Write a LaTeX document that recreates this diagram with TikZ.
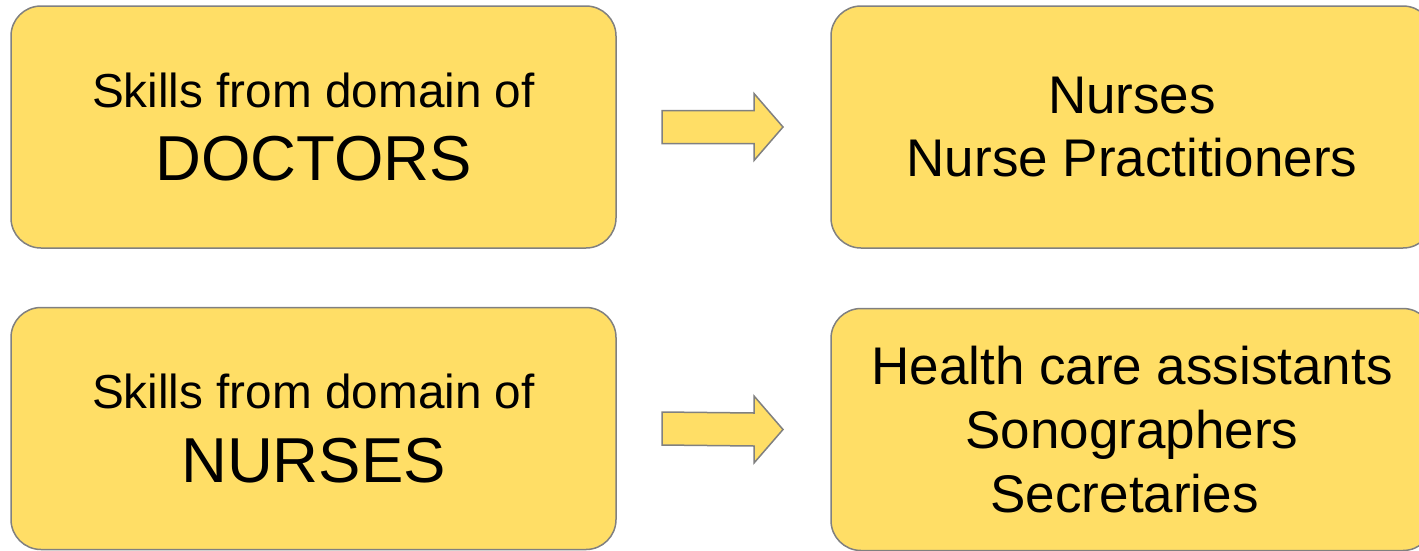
\documentclass[tikz,border=0pt]{standalone}
\usepackage{fontspec}
\setmainfont{Liberation Sans}
\usetikzlibrary{calc}
\definecolor{boxyellow}{RGB}{255,222,102}
\definecolor{boxgray}{RGB}{128,128,128}
\newcommand{\blockarrow}[2]{%
    \draw[blockarrow] ($(#1)+(0,-16.5)$) -- ($(#2)+(-29,-16.5)$) -- ($(#2)+(-29,-33.5)$)
        -- (#2) -- ($(#2)+(-29,33.5)$) -- ($(#2)+(-29,16.5)$) -- ($(#1)+(0,16.5)$) -- cycle;}

\begin{document}
\begin{tikzpicture}[x=1pt, y=-1pt,
    basebox/.style={draw=boxgray, fill=boxyellow, line width=1.5pt, rounded corners=30pt,
        minimum height=242pt, align=center, inner sep=0pt, outer sep=0pt},
    skillbox/.style={basebox, minimum width=605pt, font=\fontsize{47.7}{73.6}\selectfont},
    rolebox/.style={basebox, minimum width=602pt, font=\fontsize{53}{63.8}\selectfont},
    blockarrow/.style={draw=boxgray, fill=boxyellow, line width=1.5pt}]
    \useasboundingbox (0,0) rectangle (1419,550);

    % Doctors row
    \node[skillbox] (doctors) at (313.5, 127)
        {Skills from domain of\\{\fontsize{63.5}{73.6}\selectfont DOCTORS}};
    \node[rolebox] (nursesR) at (1132, 127) {Nurses\\Nurse Practitioners};
    \coordinate (a1) at ($(doctors.east)+(46,0)$);
    \coordinate (t1) at ($(nursesR.west)+(-48,0)$);
    \blockarrow{a1}{t1}

    % Nurses row
    \node[skillbox] (nurses) at (313.5, 428.5)
        {Skills from domain of\\{\fontsize{63.5}{73.6}\selectfont NURSES}};
    \node[rolebox] (assistants) at (1132, 429.5)
        {Health care assistants\\Sonographers\\Secretaries\ \mbox{}};
    \coordinate (a2) at ($(nurses.east)+(46,0)$);
    \coordinate (t2) at ($(assistants.west)+(-48,0)$);
    \blockarrow{a2}{t2}
\end{tikzpicture}
\end{document}
